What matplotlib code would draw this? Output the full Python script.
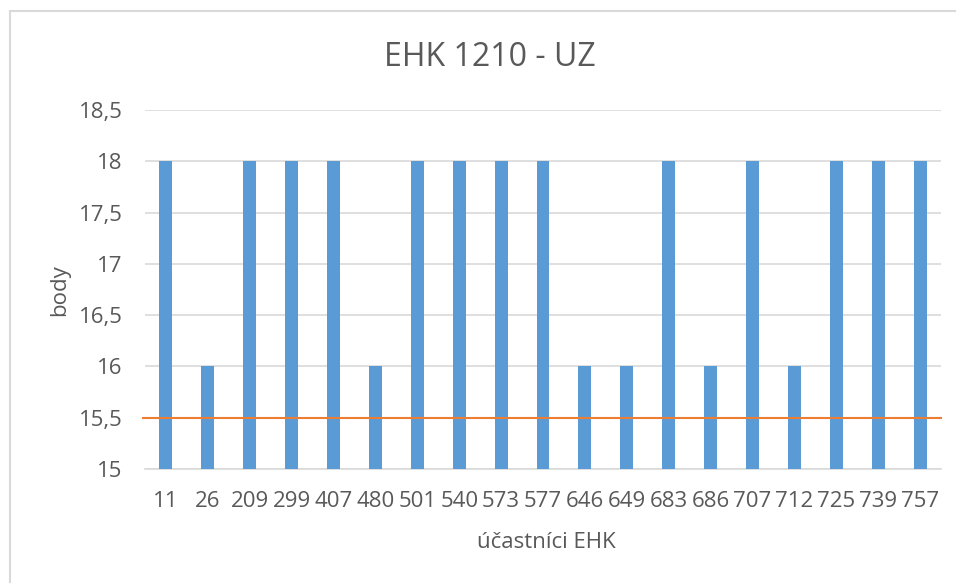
import matplotlib.pyplot as plt
from matplotlib.patches import Rectangle
import numpy as np

# Chart data
participants = ['11', '26', '209', '299', '407', '480', '501', '540', '573', '577',
                '646', '649', '683', '686', '707', '712', '725', '739', '757']
points = [18, 16, 18, 18, 18, 16, 18, 18, 18, 18, 16, 16, 18, 16, 18, 16, 18, 18, 18]
limit = 15.5
y_ticks = [15, 15.5, 16, 16.5, 17, 17.5, 18, 18.5]

plt.rcParams['font.family'] = ['Open Sans', 'DejaVu Sans']
text_color = '#595959'
grid_color = '#D9D9D9'

fig = plt.figure(figsize=(9.56, 5.83), dpi=100)
W, H = 956, 583
ax = fig.add_axes([145 / W, 1 - 469 / H, (941 - 145) / W, (469 - 110) / H])

# Outer chart border (cropped on right and bottom)
fig.patches.append(Rectangle((10 / W, -0.1), 1.2, 1 - 11 / H + 0.1, transform=fig.transFigure,
                             fill=False, edgecolor=grid_color, linewidth=1.5))

x = np.arange(len(participants))
ax.bar(x, [p - 15 for p in points], bottom=15, width=0.31, color='#5B9BD5', zorder=3)
ax.axhline(limit, xmin=-0.003, xmax=1.0, color='#ED7D31', linewidth=1.5, zorder=4, clip_on=False)

ax.set_xlim(-0.5, len(participants) - 0.5)
ax.set_ylim(15, 18.5)
ax.set_yticks(y_ticks)
ax.set_yticklabels([f'{t:g}'.replace('.', ',') for t in y_ticks])
ax.set_xticks(x)
ax.set_xticklabels(participants)
ax.tick_params(axis='both', length=0, labelsize=16, colors=text_color)
ax.tick_params(axis='y', pad=16)
ax.tick_params(axis='x', pad=16)

ax.grid(axis='y', color=grid_color, linewidth=1.2, zorder=0)
for s in ['top', 'right', 'left']:
    ax.spines[s].set_visible(False)
ax.spines['bottom'].set_color(grid_color)
ax.spines['bottom'].set_linewidth(1.2)

fig.text(60 / W, 1 - 290 / H, 'body', rotation=90, ha='center', va='center',
         fontsize=16, color=text_color)
fig.text(546 / W, 1 - 543 / H, 'účastníci EHK', ha='center', va='center',
         fontsize=16, color=text_color)
fig.text(490 / W, 1 - 58 / H, 'EHK 1210 - UZ', ha='center', va='center',
         fontsize=23, color=text_color)

fig.savefig('out.png', dpi=100)
